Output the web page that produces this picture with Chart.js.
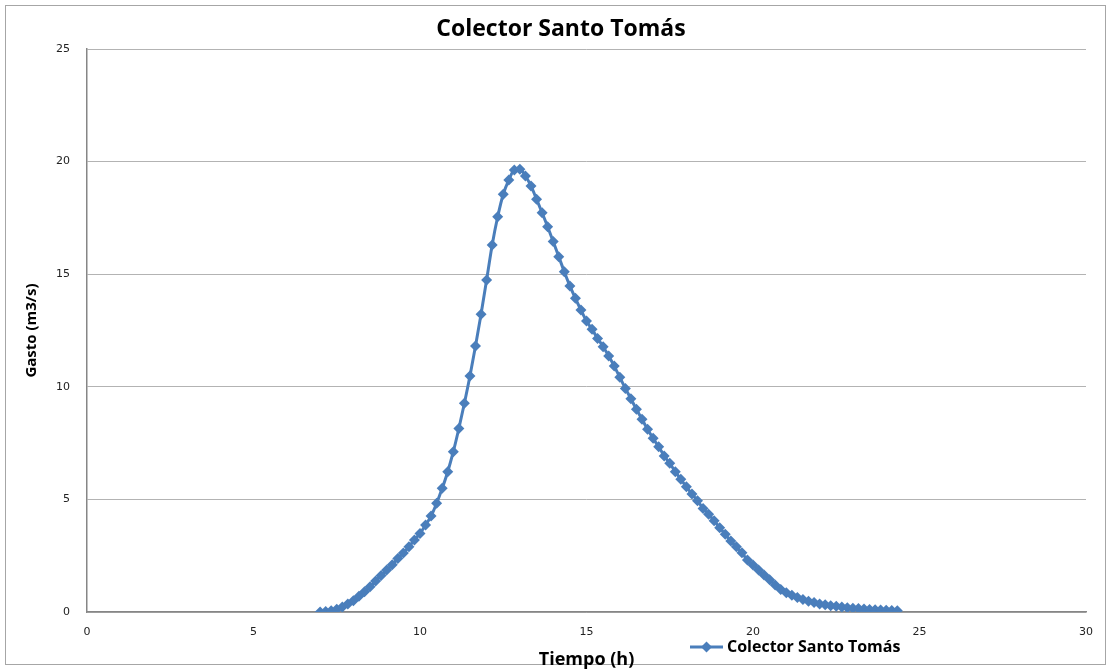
<!DOCTYPE html>
<html>
<head>
<meta charset="utf-8">
<script src="https://cdn.jsdelivr.net/npm/chart.js@4.4.0/dist/chart.umd.min.js"></script>
<style>
  body { margin: 0; background: #fff; }
  canvas { display: block; }
</style>
</head>
<body>
<canvas id="myChart" width="1111" height="670"></canvas>
<script>
// tiempo en horas (cada 10 min)
const tiempo = [
  7, 7.167, 7.333, 7.5, 7.667, 7.833,
  8, 8.167, 8.333, 8.5, 8.667, 8.833,
  9, 9.167, 9.333, 9.5, 9.667, 9.833,
  10, 10.167, 10.333, 10.5, 10.667, 10.833,
  11, 11.167, 11.333, 11.5, 11.667, 11.833,
  12, 12.167, 12.333, 12.5, 12.667, 12.833,
  13, 13.167, 13.333, 13.5, 13.667, 13.833,
  14, 14.167, 14.333, 14.5, 14.667, 14.833,
  15, 15.167, 15.333, 15.5, 15.667, 15.833,
  16, 16.167, 16.333, 16.5, 16.667, 16.833,
  17, 17.167, 17.333, 17.5, 17.667, 17.833,
  18, 18.167, 18.333, 18.5, 18.667, 18.833,
  19, 19.167, 19.333, 19.5, 19.667, 19.833,
  20, 20.167, 20.333, 20.5, 20.667, 20.833,
  21, 21.167, 21.333, 21.5, 21.667, 21.833,
  22, 22.167, 22.333, 22.5, 22.667, 22.833,
  23, 23.167, 23.333, 23.5, 23.667, 23.833,
  24, 24.167, 24.333
];

// gasto en m3/s
const gasto = [
  0.00, 0.02, 0.05, 0.12, 0.22, 0.35,
  0.50, 0.70, 0.90, 1.12, 1.38, 1.62,
  1.86, 2.10, 2.38, 2.62, 2.90, 3.20,
  3.49, 3.86, 4.26, 4.83, 5.49, 6.23,
  7.12, 8.15, 9.27, 10.48, 11.81, 13.22,
  14.74, 16.30, 17.55, 18.55, 19.18, 19.63,
  19.66, 19.36, 18.92, 18.33, 17.73, 17.11,
  16.45, 15.78, 15.11, 14.48, 13.93, 13.41,
  12.92, 12.55, 12.15, 11.78, 11.37, 10.92,
  10.42, 9.93, 9.47, 9.00, 8.56, 8.11,
  7.71, 7.34, 6.93, 6.60, 6.23, 5.89,
  5.56, 5.24, 4.94, 4.60, 4.34, 4.05,
  3.74, 3.45, 3.15, 2.90, 2.63, 2.31,
  2.09, 1.86, 1.64, 1.43, 1.20, 1.00,
  0.86, 0.74, 0.64, 0.55, 0.48, 0.42,
  0.36, 0.32, 0.28, 0.25, 0.22, 0.19,
  0.17, 0.15, 0.13, 0.11, 0.10, 0.09,
  0.08, 0.07, 0.06
];

const serieNombre = 'Colector Santo Tomás';
const tituloGrafica = 'Colector Santo Tomás';
const tituloX = 'Tiempo (h)';
const tituloY = 'Gasto (m3/s)';
const xTicks = [0, 5, 10, 15, 20, 25, 30];
const yTicks = [0, 5, 10, 15, 20, 25];

const azul = '#4a7ebb';

// fondo blanco, marco exterior y título centrado en el marco
const marco = {
  id: 'marco',
  beforeDraw(chart) {
    const c = chart.ctx;
    c.save();
    c.fillStyle = '#fff';
    c.fillRect(0, 0, chart.width, chart.height);
    c.strokeStyle = '#a6a6a6';
    c.lineWidth = 1;
    c.strokeRect(5.5, 5.5, 1100, 659);
    c.fillStyle = '#000';
    c.font = 'bold 23px "Open Sans"';
    c.textAlign = 'center';
    c.textBaseline = 'middle';
    c.fillText(tituloGrafica, 561, 29);
    c.restore();
  }
};

// leyenda abajo a la derecha, como en el original
const leyenda = {
  id: 'leyenda',
  afterDraw(chart) {
    const c = chart.ctx;
    const y = 647;
    c.save();
    c.strokeStyle = azul;
    c.lineWidth = 3;
    c.beginPath();
    c.moveTo(690, y);
    c.lineTo(723, y);
    c.stroke();
    c.fillStyle = azul;
    c.beginPath();
    c.moveTo(706.5, y - 5.5);
    c.lineTo(712, y);
    c.lineTo(706.5, y + 5.5);
    c.lineTo(701, y);
    c.closePath();
    c.fill();
    c.fillStyle = '#000';
    c.font = 'bold 16px "Open Sans"';
    c.textBaseline = 'middle';
    c.fillText(serieNombre, 727, y);
    c.restore();
  }
};

const ctx = document.getElementById('myChart').getContext('2d');

const myChart = new Chart(ctx, {
  type: 'line',
  data: {
    datasets: [{
      label: serieNombre,
      data: tiempo.map((t, i) => ({ x: t, y: gasto[i] })),
      borderColor: azul,
      backgroundColor: azul,
      borderWidth: 3,
      cubicInterpolationMode: 'monotone',
      pointStyle: 'rectRot',
      pointRadius: 5.5,
      pointBackgroundColor: azul,
      pointBorderColor: azul,
      pointBorderWidth: 0,
      fill: false
    }]
  },
  options: {
    responsive: false,
    animation: false,
    layout: { padding: { left: 0, right: 25, top: 49, bottom: 0 } },
    plugins: {
      legend: { display: false },
      tooltip: { enabled: false },
      title: { display: false }
    },
    scales: {
      x: {
        type: 'linear',
        min: 0,
        max: 30,
        afterBuildTicks(scale) { scale.ticks = xTicks.map(v => ({ value: v })); },
        afterFit(scale) { scale.height = 58; },
        grid: { display: false, drawTicks: false },
        border: { color: '#868686', width: 1.5 },
        ticks: {
          padding: 14,
          color: '#222',
          font: { family: 'DejaVu Sans', size: 11 }
        },
        title: {
          display: true,
          text: tituloX,
          color: '#000',
          font: { family: 'Open Sans', size: 18, weight: 'bold' },
          padding: { top: 0, bottom: -1 }
        }
      },
      y: {
        type: 'linear',
        min: 0,
        max: 25,
        afterBuildTicks(scale) { scale.ticks = yTicks.map(v => ({ value: v })); },
        afterFit(scale) { scale.width = 87; },
        grid: { color: '#b3b3b3', lineWidth: 1, drawTicks: false },
        border: { color: '#868686', width: 1.5 },
        ticks: {
          padding: 17,
          color: '#222',
          font: { family: 'DejaVu Sans', size: 11 }
        },
        title: {
          display: true,
          text: tituloY,
          color: '#000',
          font: { family: 'Open Sans', size: 15, weight: 'bold' },
          padding: { top: 23, bottom: 0 }
        }
      }
    }
  },
  plugins: [marco, leyenda]
});
</script>
</body>
</html>
